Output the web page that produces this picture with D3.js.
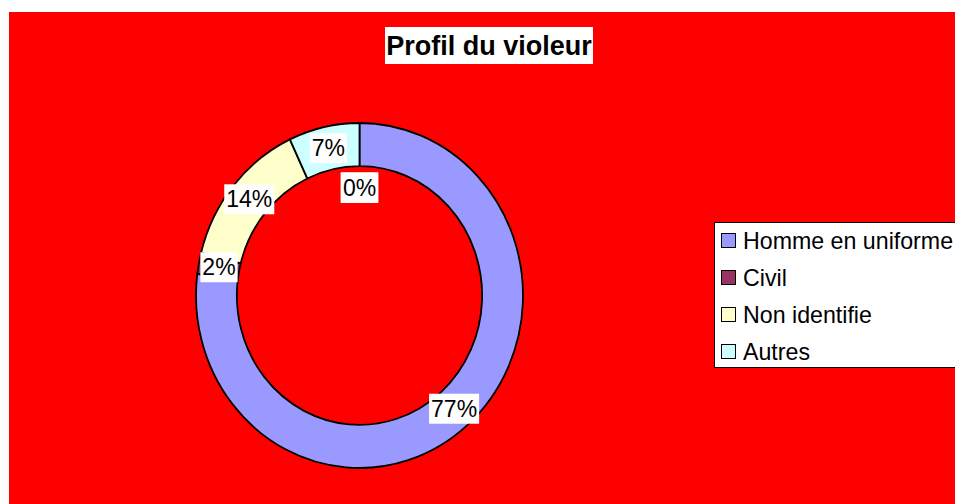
<!DOCTYPE html>
<html>
<head>
<meta charset="utf-8">
<script src="https://cdn.jsdelivr.net/npm/d3@7"></script>
<style>
    body { margin: 0; background: #fff; }
    text { font-family: "Liberation Sans", Arial, sans-serif; }
</style>
</head>
<body>
<div id="chart"></div>
<script>
'use strict';

// chart data
let title = 'Profil du violeur';
let categories = ['Homme en uniforme', 'Civil', 'Non identifie', 'Autres'];
let outerValues = [77, 2, 14, 7];
// second (inner) series is empty in the original - all labels show 0%
let innerValues = [0, 0, 0, 0];
let colors = ['#9999ff', '#993366', '#ffffcc', '#ccffff'];

let width = 955,
    height = 504;

let svg = d3.select('#chart')
    .append('svg')
    .attr('width', width)
    .attr('height', height);

// red chart area
svg.append('rect')
    .attr('x', 9)
    .attr('y', 12)
    .attr('width', width - 9)
    .attr('height', height - 12)
    .attr('fill', '#ff0000');

// title
let titleG = svg.append('g');
titleG.append('rect')
    .attr('x', 385)
    .attr('y', 27)
    .attr('width', 208)
    .attr('height', 37)
    .attr('fill', '#fff');
titleG.append('text')
    .attr('x', 489)
    .attr('y', 55)
    .attr('text-anchor', 'middle')
    .attr('font-size', 27)
    .attr('font-weight', 'bold')
    .text(title);

// doughnut geometry (slightly elliptical, like the original)
let cx = 359.5,
    cy = 295.5,
    R = 163.5,
    sy = 172.5 / 163.5;

let pie = d3.pie().sort(null).value(function(d) {
    return d;
});
let outerArc = d3.arc().innerRadius(R * 0.75).outerRadius(R);
let innerArc = d3.arc().innerRadius(R * 0.5).outerRadius(R * 0.75);

let ring = svg.append('g')
    .attr('transform', 'translate(' + cx + ',' + cy + ') scale(1,' + sy + ')');

ring.selectAll('path')
    .data(pie(outerValues))
    .enter().append('path')
    .attr('d', outerArc)
    .attr('fill', function(d, i) {
        return colors[i];
    })
    .attr('stroke', '#000')
    .attr('stroke-width', 1.8)
    .attr('vector-effect', 'non-scaling-stroke');

// data labels
function addLabel(x, y, txt) {
    let g = svg.append('g');
    let t = g.append('text')
        .attr('x', x)
        .attr('y', y)
        .attr('text-anchor', 'middle')
        .attr('dominant-baseline', 'central')
        .attr('font-size', 23)
        .text(txt);
    let b = t.node().getBBox();
    g.insert('rect', 'text')
        .attr('x', b.x - 2)
        .attr('y', y - 15)
        .attr('width', b.width + 4)
        .attr('height', 30)
        .attr('fill', '#fff');
}

let outerSum = d3.sum(outerValues);
pie(outerValues).forEach(function(d) {
    let c = outerArc.centroid(d);
    addLabel(cx + c[0], cy + c[1] * sy, Math.round(d.value / outerSum * 100) + '%');
});

let innerSum = d3.sum(innerValues);
pie(innerValues).forEach(function(d) {
    let c = innerArc.centroid(d);
    let pct = innerSum ? Math.round(d.value / innerSum * 100) : 0;
    addLabel(cx + c[0], cy + c[1] * sy, pct + '%');
});

// legend
let legend = svg.append('g');
legend.append('rect')
    .attr('x', 714.5)
    .attr('y', 222.5)
    .attr('width', 260)
    .attr('height', 145)
    .attr('fill', '#fff')
    .attr('stroke', '#000')
    .attr('stroke-width', 1);

let legendY = d3.scalePoint()
    .domain(categories)
    .range([241, 352]);

let items = legend.selectAll('g.item')
    .data(categories)
    .enter().append('g')
    .attr('class', 'item')
    .attr('transform', function(d) {
        return 'translate(0,' + legendY(d) + ')';
    });

items.append('rect')
    .attr('x', 721.5)
    .attr('y', -7.5)
    .attr('width', 14)
    .attr('height', 14)
    .attr('fill', function(d, i) {
        return colors[i];
    })
    .attr('stroke', '#000')
    .attr('stroke-width', 1);

items.append('text')
    .attr('x', 743)
    .attr('y', 0)
    .attr('dominant-baseline', 'central')
    .attr('font-size', 23.2)
    .text(function(d) {
        return d;
    });
</script>
</body>
</html>
